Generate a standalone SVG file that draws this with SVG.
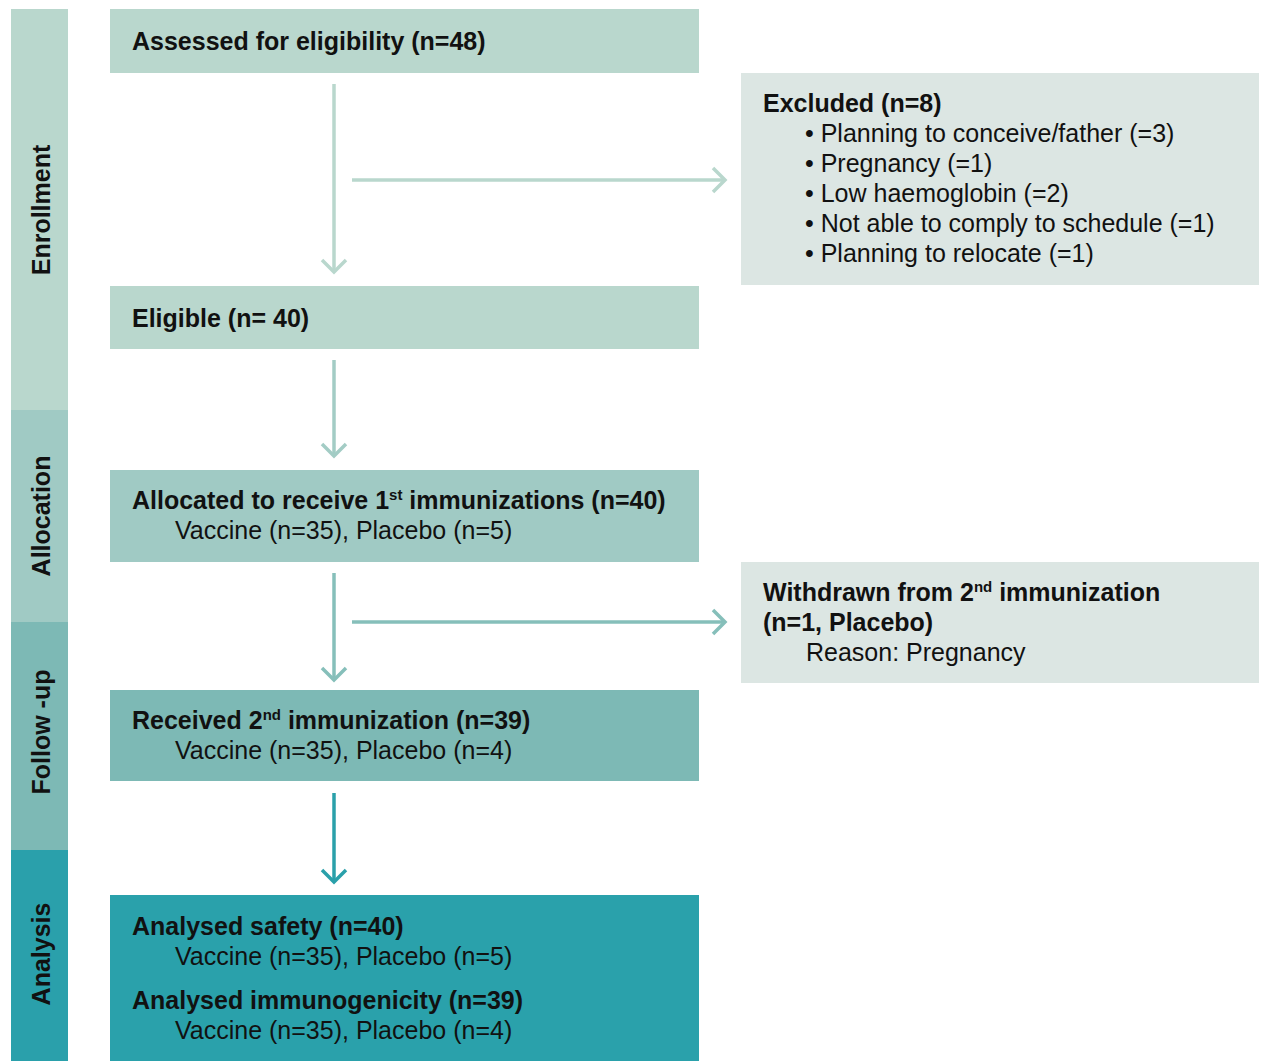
<svg xmlns="http://www.w3.org/2000/svg" width="1264" height="1061" viewBox="0 0 1264 1061">
<defs>
<style>
text{font-family:"Liberation Sans",Arial,sans-serif;font-size:25px;fill:#111;}
.b{font-weight:bold;}
.side{font-weight:bold;text-anchor:middle;}
.sup{font-size:15px;}
.conn{fill:none;stroke-width:3.5;}
</style>
<marker id="m1" viewBox="-16 -16 32 32" refX="0" refY="0" markerWidth="32" markerHeight="32" markerUnits="userSpaceOnUse" orient="auto"><path d="M-12,-12 L0,0 L-12,12" fill="none" stroke="#b9d7cd" stroke-width="3.5"/></marker>
<marker id="m2" viewBox="-16 -16 32 32" refX="0" refY="0" markerWidth="32" markerHeight="32" markerUnits="userSpaceOnUse" orient="auto"><path d="M-12,-12 L0,0 L-12,12" fill="none" stroke="#a3ccc5" stroke-width="3.5"/></marker>
<marker id="m3" viewBox="-16 -16 32 32" refX="0" refY="0" markerWidth="32" markerHeight="32" markerUnits="userSpaceOnUse" orient="auto"><path d="M-12,-12 L0,0 L-12,12" fill="none" stroke="#86bfba" stroke-width="3.5"/></marker>
<marker id="m4" viewBox="-16 -16 32 32" refX="0" refY="0" markerWidth="32" markerHeight="32" markerUnits="userSpaceOnUse" orient="auto"><path d="M-12,-12 L0,0 L-12,12" fill="none" stroke="#2aa0aa" stroke-width="3.5"/></marker>
</defs>
<rect width="1264" height="1061" fill="#ffffff"/>

<g id="stage-enrollment">
<rect x="11" y="9" width="57" height="401" fill="#b9d7cd"/>
<text class="side" transform="translate(50,210) rotate(-90)">Enrollment</text>
</g>
<g id="stage-allocation">
<rect x="11" y="410" width="57" height="212" fill="#a0cac4"/>
<text class="side" transform="translate(50,516) rotate(-90)">Allocation</text>
</g>
<g id="stage-followup">
<rect x="11" y="622" width="57" height="228" fill="#7db9b5"/>
<text class="side" transform="translate(50,732) rotate(-90)">Follow -up</text>
</g>
<g id="stage-analysis">
<rect x="11" y="850" width="57" height="211" fill="#2aa0ab"/>
<text class="side" transform="translate(50,954) rotate(-90)">Analysis</text>
</g>

<g id="node-assessed">
<rect x="110" y="9" width="589" height="64" fill="#b9d7cd"/>
<text class="b" x="132" y="50">Assessed for eligibility (n=48)</text>
</g>
<g id="node-excluded">
<rect x="741" y="73" width="518" height="212" fill="#dce6e3"/>
<text class="b" x="763" y="112">Excluded (n=8)</text>
<text x="805" y="142">• Planning to conceive/father (=3)</text>
<text x="805" y="172">• Pregnancy (=1)</text>
<text x="805" y="202">• Low haemoglobin (=2)</text>
<text x="805" y="232">• Not able to comply to schedule (=1)</text>
<text x="805" y="262">• Planning to relocate (=1)</text>
</g>
<g id="node-eligible">
<rect x="110" y="286" width="589" height="63" fill="#b9d7cd"/>
<text class="b" x="132" y="327">Eligible (n= 40)</text>
</g>
<g id="node-allocated">
<rect x="110" y="470" width="589" height="92" fill="#a0cac4"/>
<text class="b" x="132" y="509">Allocated to receive 1<tspan class="sup" dy="-9">st</tspan><tspan dy="9"> immunizations (n=40)</tspan></text>
<text x="175" y="539">Vaccine (n=35), Placebo (n=5)</text>
</g>
<g id="node-withdrawn">
<rect x="741" y="562" width="518" height="121" fill="#dce6e3"/>
<text class="b" x="763" y="601">Withdrawn from 2<tspan class="sup" dy="-9">nd</tspan><tspan dy="9"> immunization</tspan></text>
<text class="b" x="763" y="631">(n=1, Placebo)</text>
<text x="806" y="661">Reason: Pregnancy</text>
</g>
<g id="node-received">
<rect x="110" y="690" width="589" height="91" fill="#7db9b5"/>
<text class="b" x="132" y="729">Received 2<tspan class="sup" dy="-9">nd</tspan><tspan dy="9"> immunization (n=39)</tspan></text>
<text x="175" y="759">Vaccine (n=35), Placebo (n=4)</text>
</g>
<g id="node-analysed">
<rect x="110" y="895" width="589" height="166" fill="#2aa1ab"/>
<text class="b" x="132" y="935">Analysed safety (n=40)</text>
<text x="175" y="965">Vaccine (n=35), Placebo (n=5)</text>
<text class="b" x="132" y="1009">Analysed immunogenicity (n=39)</text>
<text x="175" y="1039">Vaccine (n=35), Placebo (n=4)</text>
</g>

<g id="connectors">
<line class="conn" x1="334" y1="84" x2="334" y2="272" stroke="#b9d7cd" marker-end="url(#m1)"/>
<line class="conn" x1="352" y1="180" x2="725" y2="180" stroke="#b9d7cd" marker-end="url(#m1)"/>
<line class="conn" x1="334" y1="360" x2="334" y2="456" stroke="#a3ccc5" marker-end="url(#m2)"/>
<line class="conn" x1="334" y1="573" x2="334" y2="680" stroke="#86bfba" marker-end="url(#m3)"/>
<line class="conn" x1="352" y1="622" x2="725" y2="622" stroke="#86bfba" marker-end="url(#m3)"/>
<line class="conn" x1="334" y1="793" x2="334" y2="882" stroke="#2aa0aa" marker-end="url(#m4)"/>
</g>
</svg>
